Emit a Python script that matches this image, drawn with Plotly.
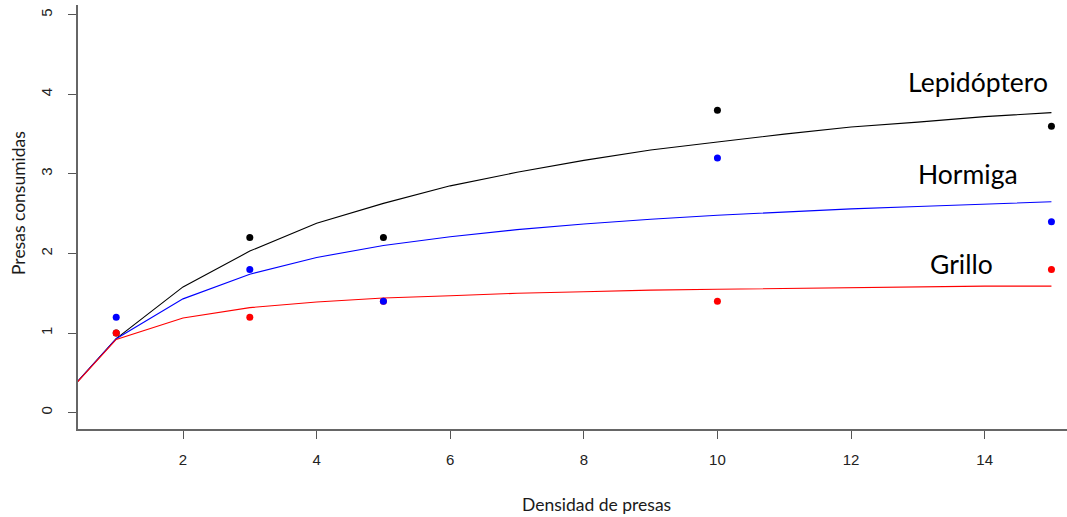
import plotly.graph_objects as go

# Observed prey consumption at each prey density
densidad = [1, 3, 5, 10, 15]
lepidoptero_obs = [1.0, 2.2, 2.2, 3.8, 3.6]
hormiga_obs = [1.2, 1.8, 1.4, 3.2, 2.4]
grillo_obs = [1.0, 1.2, 1.4, 1.4, 1.8]

# Fitted functional-response curves evaluated at integer densities
densidad_curva = list(range(0, 16))
lepidoptero_fit = [0, 0.93, 1.58, 2.03, 2.38, 2.63, 2.85, 3.02, 3.17, 3.30,
                   3.40, 3.50, 3.59, 3.65, 3.72, 3.77]
hormiga_fit = [0, 0.93, 1.43, 1.74, 1.95, 2.10, 2.21, 2.30, 2.37, 2.43,
               2.48, 2.52, 2.56, 2.59, 2.62, 2.65]
grillo_fit = [0, 0.92, 1.19, 1.32, 1.39, 1.44, 1.47, 1.50, 1.52, 1.54,
              1.55, 1.56, 1.57, 1.58, 1.59, 1.59]

etiquetas = ["Lepidóptero", "Hormiga", "Grillo"]
etiqueta_x = [13.9, 13.75, 13.66]
etiqueta_y = [4.16, 3.0, 1.87]

x_ticks = [2, 4, 6, 8, 10, 12, 14]
y_ticks = [0, 1, 2, 3, 4, 5]

fig = go.Figure()

for y, color in [(lepidoptero_fit, "black"), (hormiga_fit, "#0000FF"), (grillo_fit, "#FF0000")]:
    fig.add_trace(go.Scatter(x=densidad_curva, y=y, mode="lines",
                             line=dict(color=color, width=1.1),
                             hoverinfo="skip", showlegend=False))

for y, color in [(lepidoptero_obs, "black"), (grillo_obs, "#FF0000"), (hormiga_obs, "#0000FF")]:
    fig.add_trace(go.Scatter(x=densidad, y=y, mode="markers",
                             marker=dict(color=color, size=7, line=dict(width=0)),
                             cliponaxis=False, showlegend=False))

for txt, ax, ay in zip(etiquetas, etiqueta_x, etiqueta_y):
    fig.add_annotation(x=ax, y=ay, xref="x", yref="y", text=txt, showarrow=False,
                       font=dict(family="Lato, sans-serif", size=26.5, color="black"))

# Axis titles
titulo_font = dict(family="Lato, sans-serif", size=17.5, color="#1a1a1a")
fig.add_annotation(x=0.5245, y=-0.177, xref="paper", yref="paper",
                   text="Densidad de presas", showarrow=False,
                   xanchor="center", yanchor="middle", font=titulo_font)
fig.add_annotation(x=-0.0607, y=0.533, xref="paper", yref="paper",
                   text="Presas consumidas", showarrow=False, textangle=-90,
                   xanchor="center", yanchor="middle", font=titulo_font)

fig.update_layout(
    width=1067, height=517,
    margin=dict(l=78, r=0, t=5, b=88),
    paper_bgcolor="white", plot_bgcolor="white",
    showlegend=False,
)
fig.update_xaxes(
    range=[0.428, 15.233], tickvals=x_ticks, ticks="outside", ticklen=8,
    tickcolor="#555", tickwidth=1.2, showline=True, linecolor="#666", linewidth=2,
    showgrid=False, zeroline=False, ticklabelstandoff=8,
    tickfont=dict(family="Liberation Sans, Arial", size=15, color="#222"),
)
fig.update_yaxes(
    range=[-0.205, 5.122], tickvals=y_ticks, ticks="outside", ticklen=8,
    tickcolor="#555", tickwidth=1.2, showline=True, linecolor="#666", linewidth=2,
    showgrid=False, zeroline=False, tickangle=-90, ticklabelstandoff=10,
    tickfont=dict(family="Liberation Sans, Arial", size=15, color="#222"),
)

fig.write_html("out.html")
